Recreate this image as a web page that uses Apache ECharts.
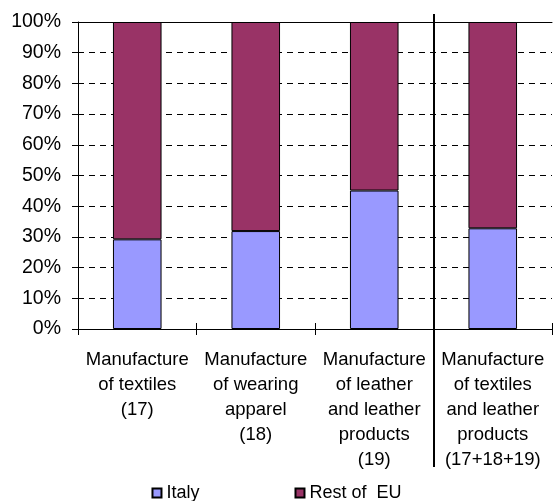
<!DOCTYPE html>
<html>
<head>
<meta charset="utf-8">
<script src="https://cdn.jsdelivr.net/npm/echarts@6/dist/echarts.min.js"></script>
<style>
  html, body { margin: 0; padding: 0; background: #fff; }
  #chart { width: 553px; height: 501px; }
</style>
</head>
<body>
<div id="chart"></div>
<script>
// Share of each manufacturing branch, Italy vs. rest of the EU (percent)
const categories = [
  'Manufacture\nof textiles\n(17)',
  'Manufacture\nof wearing\napparel\n(18)',
  'Manufacture\nof leather\nand leather\nproducts\n(19)',
  'Manufacture\nof textiles\nand leather\nproducts\n(17+18+19)'
];
const italy = [29.2, 31.9, 45.1, 32.8];
const restOfEU = [70.8, 68.1, 54.9, 67.2];
const seriesNames = ['Italy', 'Rest of  EU'];

const FONT = '"Liberation Sans", Arial, sans-serif';
const chart = echarts.init(document.getElementById('chart'), null, { renderer: 'canvas' });

const barBorder = { borderColor: '#000', borderWidth: 1 };

chart.setOption({
  animation: false,
  backgroundColor: '#fff',
  textStyle: { fontFamily: FONT, color: '#000' },
  grid: { left: 78, right: 1, top: 22, bottom: 172, containLabel: false },
  legend: {
    data: seriesNames,
    left: 'center',
    top: 484,
    padding: 0,
    icon: 'rect',
    itemWidth: 9,
    itemHeight: 9,
    itemGap: 95,
    textStyle: { fontFamily: FONT, fontSize: 18, color: '#000' }
  },
  xAxis: [
    {
      type: 'category',
      data: categories,
      position: 'bottom',
      axisLine: { lineStyle: { color: '#000', width: 1 } },
      axisTick: { show: true, inside: false, length: 6, lineStyle: { color: '#000' } },
      axisLabel: {
        interval: 0,
        margin: 18,
        fontFamily: FONT,
        fontSize: 18.5,
        lineHeight: 25,
        color: '#000',
        align: 'center'
      },
      splitLine: { show: false }
    },
    {
      // inner half of the crossing category ticks
      type: 'category',
      data: categories,
      position: 'bottom',
      axisLine: { show: false },
      axisTick: { show: true, inside: true, length: 6, lineStyle: { color: '#000' } },
      axisLabel: { show: false },
      splitLine: { show: false }
    },
    {
      // solid frame line along the top of the plot
      type: 'category',
      data: categories,
      position: 'top',
      axisLine: { lineStyle: { color: '#000', width: 1 } },
      axisTick: { show: false },
      axisLabel: { show: false },
      splitLine: { show: false }
    }
  ],
  yAxis: {
    type: 'value',
    min: 0,
    max: 100,
    interval: 10,
    axisLine: { show: true, lineStyle: { color: '#000', width: 1 } },
    axisTick: { show: true, inside: false, length: 6, lineStyle: { color: '#000' } },
    axisLabel: {
      formatter: '{value}%',
      margin: 17,
      fontFamily: FONT,
      fontSize: 19.5,
      color: '#000'
    },
    splitLine: {
      show: true,
      lineStyle: { color: '#000', width: 1, type: [6, 5] }
    }
  },
  series: [
    {
      name: seriesNames[0],
      type: 'bar',
      stack: 'share',
      data: italy,
      barWidth: '41%',
      itemStyle: Object.assign({ color: '#9999FF' }, barBorder)
    },
    {
      name: seriesNames[1],
      type: 'bar',
      stack: 'share',
      data: restOfEU,
      barWidth: '41%',
      itemStyle: Object.assign({ color: '#993366' }, barBorder)
    }
  ]
});

// Separator between the single branches and the combined total
function drawSeparator() {
  const a = chart.convertToPixel({ xAxisIndex: 0 }, 2);
  const b = chart.convertToPixel({ xAxisIndex: 0 }, 3);
  const x = Math.round((a + b) / 2);
  const yTop = chart.convertToPixel({ yAxisIndex: 0 }, 100) - 8;
  chart.setOption({
    graphic: [{
      type: 'line',
      z: 100,
      shape: { x1: x, y1: yTop, x2: x, y2: 467 },
      style: { stroke: '#000', lineWidth: 2 }
    }]
  });
}
drawSeparator();
</script>
</body>
</html>
